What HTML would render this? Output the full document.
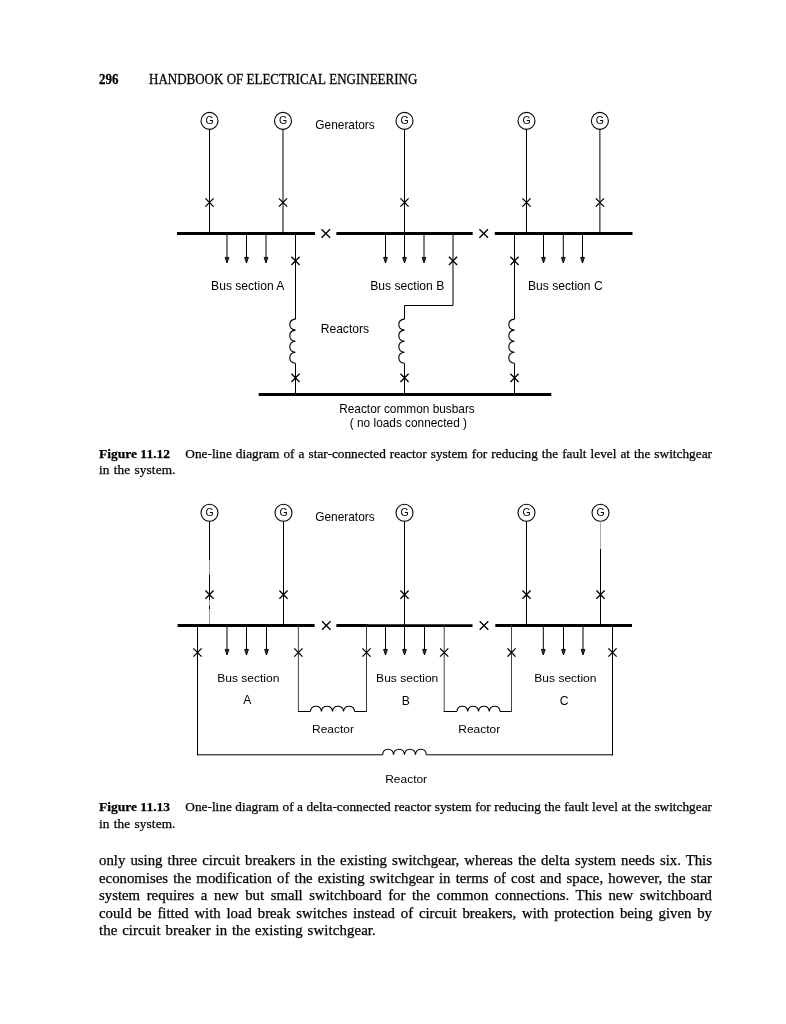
<!DOCTYPE html>
<html><head><meta charset="utf-8">
<style>
html,body{margin:0;padding:0;background:#fff;}
body{filter:grayscale(1);width:786px;height:1024px;position:relative;overflow:hidden;}
svg{position:absolute;left:0;top:0;}
.s{font-family:"Liberation Sans",sans-serif;fill:#000;}
.t{position:absolute;font-family:"Liberation Serif",serif;color:#000;-webkit-text-stroke:0.25px #000;white-space:nowrap;}
.j{position:absolute;left:99px;width:613px;font-family:"Liberation Serif",serif;color:#000;-webkit-text-stroke:0.25px #000;text-align:justify;text-align-last:justify;white-space:nowrap;}
.jl{text-align-last:left;}
b{font-weight:bold;}
</style></head><body>
<div class="t" style="left:99px;top:71px;font-size:13px;line-height:16px;transform:scaleY(1.08);transform-origin:0 4.3px;"><b>296</b><span style="position:absolute;left:50px;">HANDBOOK&nbsp;OF&nbsp;ELECTRICAL&nbsp;ENGINEERING</span></div>
<svg width="786" height="1024" viewBox="0 0 786 1024">
<circle cx="209.5" cy="120.9" r="8.5" fill="none" stroke="#000" stroke-width="1.1"/>
<text x="209.5" y="123.80" text-anchor="middle" font-size="10.5" class="s">G</text>
<line x1="209.5" y1="129.4" x2="209.5" y2="233.5" stroke="#000" stroke-width="1.0"/>
<path d="M205.4,198.4L213.6,206.6M213.6,198.4L205.4,206.6" stroke="#000" stroke-width="1.3" fill="none"/>
<circle cx="283" cy="120.9" r="8.5" fill="none" stroke="#000" stroke-width="1.1"/>
<text x="283" y="123.80" text-anchor="middle" font-size="10.5" class="s">G</text>
<line x1="283" y1="129.4" x2="283" y2="233.5" stroke="#000" stroke-width="1.0"/>
<path d="M278.9,198.4L287.1,206.6M287.1,198.4L278.9,206.6" stroke="#000" stroke-width="1.3" fill="none"/>
<circle cx="404.5" cy="120.9" r="8.5" fill="none" stroke="#000" stroke-width="1.1"/>
<text x="404.5" y="123.80" text-anchor="middle" font-size="10.5" class="s">G</text>
<line x1="404.5" y1="129.4" x2="404.5" y2="233.5" stroke="#000" stroke-width="1.0"/>
<path d="M400.4,198.4L408.6,206.6M408.6,198.4L400.4,206.6" stroke="#000" stroke-width="1.3" fill="none"/>
<circle cx="526.5" cy="120.9" r="8.5" fill="none" stroke="#000" stroke-width="1.1"/>
<text x="526.5" y="123.80" text-anchor="middle" font-size="10.5" class="s">G</text>
<line x1="526.5" y1="129.4" x2="526.5" y2="233.5" stroke="#000" stroke-width="1.0"/>
<path d="M522.4,198.4L530.6,206.6M530.6,198.4L522.4,206.6" stroke="#000" stroke-width="1.3" fill="none"/>
<circle cx="599.9" cy="120.9" r="8.5" fill="none" stroke="#000" stroke-width="1.1"/>
<text x="599.9" y="123.80" text-anchor="middle" font-size="10.5" class="s">G</text>
<line x1="599.9" y1="129.4" x2="599.9" y2="233.5" stroke="#000" stroke-width="1.0"/>
<path d="M595.8,198.4L604.0,206.6M604.0,198.4L595.8,206.6" stroke="#000" stroke-width="1.3" fill="none"/>
<line x1="177" y1="233.5" x2="315" y2="233.5" stroke="#000" stroke-width="3.0"/>
<line x1="336.4" y1="233.5" x2="472.7" y2="233.5" stroke="#000" stroke-width="3.0"/>
<line x1="494.8" y1="233.5" x2="632.5" y2="233.5" stroke="#000" stroke-width="3.0"/>
<path d="M321.5,229.2L330.1,237.8M330.1,229.2L321.5,237.8" stroke="#000" stroke-width="1.3" fill="none"/>
<path d="M479.4,229.2L488.0,237.8M488.0,229.2L479.4,237.8" stroke="#000" stroke-width="1.3" fill="none"/>
<text x="315.3" y="128.6" font-size="11.9" class="s" text-anchor="start">Generators</text>
<line x1="227" y1="233.5" x2="227" y2="259" stroke="#000" stroke-width="1"/>
<path d="M225.1,257.4L228.9,257.4L227,263Z" fill="#333" stroke="#000" stroke-width="0.9" stroke-linejoin="miter"/>
<line x1="246.5" y1="233.5" x2="246.5" y2="259" stroke="#000" stroke-width="1"/>
<path d="M244.6,257.4L248.4,257.4L246.5,263Z" fill="#333" stroke="#000" stroke-width="0.9" stroke-linejoin="miter"/>
<line x1="266" y1="233.5" x2="266" y2="259" stroke="#000" stroke-width="1"/>
<path d="M264.1,257.4L267.9,257.4L266,263Z" fill="#333" stroke="#000" stroke-width="0.9" stroke-linejoin="miter"/>
<line x1="385.5" y1="233.5" x2="385.5" y2="259" stroke="#000" stroke-width="1"/>
<path d="M383.6,257.4L387.4,257.4L385.5,263Z" fill="#333" stroke="#000" stroke-width="0.9" stroke-linejoin="miter"/>
<line x1="404.5" y1="233.5" x2="404.5" y2="259" stroke="#000" stroke-width="1"/>
<path d="M402.6,257.4L406.4,257.4L404.5,263Z" fill="#333" stroke="#000" stroke-width="0.9" stroke-linejoin="miter"/>
<line x1="424" y1="233.5" x2="424" y2="259" stroke="#000" stroke-width="1"/>
<path d="M422.1,257.4L425.9,257.4L424,263Z" fill="#333" stroke="#000" stroke-width="0.9" stroke-linejoin="miter"/>
<line x1="543.5" y1="233.5" x2="543.5" y2="259" stroke="#000" stroke-width="1"/>
<path d="M541.6,257.4L545.4,257.4L543.5,263Z" fill="#333" stroke="#000" stroke-width="0.9" stroke-linejoin="miter"/>
<line x1="563.3" y1="233.5" x2="563.3" y2="259" stroke="#000" stroke-width="1"/>
<path d="M561.4,257.4L565.19,257.4L563.3,263Z" fill="#333" stroke="#000" stroke-width="0.9" stroke-linejoin="miter"/>
<line x1="582.5" y1="233.5" x2="582.5" y2="259" stroke="#000" stroke-width="1"/>
<path d="M580.6,257.4L584.4,257.4L582.5,263Z" fill="#333" stroke="#000" stroke-width="0.9" stroke-linejoin="miter"/>
<line x1="295.5" y1="233.5" x2="295.5" y2="319.1" stroke="#000" stroke-width="1.0"/>
<path d="M295.5,319.1C287.91,319.65 287.91,329.59 295.5,330.15C287.91,330.70 287.91,340.64 295.5,341.20C287.91,341.75 287.91,351.69 295.5,352.25C287.91,352.80 287.91,362.74 295.5,363.30" fill="none" stroke="#000" stroke-width="1.1"/>
<line x1="295.5" y1="363.30" x2="295.5" y2="394.5" stroke="#000" stroke-width="1.0"/>
<path d="M291.4,256.79L299.6,265.0M299.6,256.79L291.4,265.0" stroke="#000" stroke-width="1.3" fill="none"/>
<path d="M291.4,373.79L299.6,382.0M299.6,373.79L291.4,382.0" stroke="#000" stroke-width="1.3" fill="none"/>
<line x1="514.5" y1="233.5" x2="514.5" y2="319.1" stroke="#000" stroke-width="1.0"/>
<path d="M514.5,319.1C506.91,319.65 506.91,329.59 514.5,330.15C506.91,330.70 506.91,340.64 514.5,341.20C506.91,341.75 506.91,351.69 514.5,352.25C506.91,352.80 506.91,362.74 514.5,363.30" fill="none" stroke="#000" stroke-width="1.1"/>
<line x1="514.5" y1="363.30" x2="514.5" y2="394.5" stroke="#000" stroke-width="1.0"/>
<path d="M510.4,256.79L518.6,265.0M518.6,256.79L510.4,265.0" stroke="#000" stroke-width="1.3" fill="none"/>
<path d="M510.4,373.79L518.6,382.0M518.6,373.79L510.4,382.0" stroke="#000" stroke-width="1.3" fill="none"/>
<polyline points="453,233.5 453,305.5 404.5,305.5 404.5,319.1" fill="none" stroke="#000" stroke-width="1.0"/>
<path d="M404.5,319.1C396.91,319.65 396.91,329.59 404.5,330.15C396.91,330.70 396.91,340.64 404.5,341.20C396.91,341.75 396.91,351.69 404.5,352.25C396.91,352.80 396.91,362.74 404.5,363.30" fill="none" stroke="#000" stroke-width="1.1"/>
<line x1="404.5" y1="363.30" x2="404.5" y2="394.5" stroke="#000" stroke-width="1.0"/>
<path d="M448.9,256.79L457.1,265.0M457.1,256.79L448.9,265.0" stroke="#000" stroke-width="1.3" fill="none"/>
<path d="M400.4,373.79L408.6,382.0M408.6,373.79L400.4,382.0" stroke="#000" stroke-width="1.3" fill="none"/>
<line x1="258.7" y1="394.5" x2="551.3" y2="394.5" stroke="#000" stroke-width="3.0"/>
<text x="211.1" y="289.5" font-size="12.1" class="s" text-anchor="start">Bus section A</text>
<text x="370.3" y="289.6" font-size="12.1" class="s" text-anchor="start">Bus section B</text>
<text x="528.0" y="289.8" font-size="12.1" class="s" text-anchor="start">Bus section C</text>
<text x="320.7" y="332.9" font-size="12.1" class="s" text-anchor="start">Reactors</text>
<text x="339.2" y="412.7" font-size="11.85" class="s" text-anchor="start">Reactor common busbars</text>
<text x="349.8" y="426.6" font-size="11.85" class="s" text-anchor="start">( no loads connected )</text>
<circle cx="209.5" cy="512.8" r="8.5" fill="none" stroke="#000" stroke-width="1.1"/>
<text x="209.5" y="515.69" text-anchor="middle" font-size="10.5" class="s">G</text>
<path d="M205.4,590.5L213.6,598.7M213.6,590.5L205.4,598.7" stroke="#000" stroke-width="1.3" fill="none"/>
<circle cx="283.5" cy="512.8" r="8.5" fill="none" stroke="#000" stroke-width="1.1"/>
<text x="283.5" y="515.69" text-anchor="middle" font-size="10.5" class="s">G</text>
<path d="M279.4,590.5L287.6,598.7M287.6,590.5L279.4,598.7" stroke="#000" stroke-width="1.3" fill="none"/>
<circle cx="404.5" cy="512.8" r="8.5" fill="none" stroke="#000" stroke-width="1.1"/>
<text x="404.5" y="515.69" text-anchor="middle" font-size="10.5" class="s">G</text>
<path d="M400.4,590.5L408.6,598.7M408.6,590.5L400.4,598.7" stroke="#000" stroke-width="1.3" fill="none"/>
<circle cx="526.5" cy="512.8" r="8.5" fill="none" stroke="#000" stroke-width="1.1"/>
<text x="526.5" y="515.69" text-anchor="middle" font-size="10.5" class="s">G</text>
<path d="M522.4,590.5L530.6,598.7M530.6,590.5L522.4,598.7" stroke="#000" stroke-width="1.3" fill="none"/>
<circle cx="600.5" cy="512.8" r="8.5" fill="none" stroke="#000" stroke-width="1.1"/>
<text x="600.5" y="515.69" text-anchor="middle" font-size="10.5" class="s">G</text>
<path d="M596.4,590.5L604.6,598.7M604.6,590.5L596.4,598.7" stroke="#000" stroke-width="1.3" fill="none"/>
<line x1="283.5" y1="521.3" x2="283.5" y2="625.5" stroke="#000" stroke-width="1.0"/>
<line x1="404.5" y1="521.3" x2="404.5" y2="625.5" stroke="#000" stroke-width="1.0"/>
<line x1="526.5" y1="521.3" x2="526.5" y2="625.5" stroke="#000" stroke-width="1.0"/>
<line x1="209.5" y1="521.3" x2="209.5" y2="560" stroke="#000" stroke-width="1.0"/>
<line x1="209.5" y1="560" x2="209.5" y2="574.6" stroke="#999" stroke-width="1"/>
<line x1="209.5" y1="574.6" x2="209.5" y2="600" stroke="#000" stroke-width="1.0"/>
<line x1="209.5" y1="600" x2="209.5" y2="625.5" stroke="#999" stroke-width="1"/>
<line x1="209.5" y1="606" x2="209.5" y2="609" stroke="#000" stroke-width="1.0"/>
<line x1="600.5" y1="521.3" x2="600.5" y2="549" stroke="#aaa" stroke-width="1"/>
<line x1="600.5" y1="549" x2="600.5" y2="625.5" stroke="#000" stroke-width="1.0"/>
<line x1="177.6" y1="625.5" x2="314.6" y2="625.5" stroke="#000" stroke-width="3.0"/>
<line x1="336.4" y1="625.5" x2="368" y2="625.5" stroke="#000" stroke-width="3.0"/>
<line x1="368" y1="625.6" x2="472.5" y2="625.6" stroke="#000" stroke-width="2.6"/>
<line x1="495.3" y1="625.5" x2="632" y2="625.5" stroke="#000" stroke-width="3.0"/>
<path d="M322.0,621.2L330.6,629.8M330.6,621.2L322.0,629.8" stroke="#000" stroke-width="1.3" fill="none"/>
<path d="M479.7,621.2L488.3,629.8M488.3,621.2L479.7,629.8" stroke="#000" stroke-width="1.3" fill="none"/>
<text x="315.2" y="520.6" font-size="11.9" class="s" text-anchor="start">Generators</text>
<line x1="227" y1="625.5" x2="227" y2="651" stroke="#000" stroke-width="1"/>
<path d="M225.1,649.4L228.9,649.4L227,655Z" fill="#333" stroke="#000" stroke-width="0.9" stroke-linejoin="miter"/>
<line x1="246.5" y1="625.5" x2="246.5" y2="651" stroke="#000" stroke-width="1"/>
<path d="M244.6,649.4L248.4,649.4L246.5,655Z" fill="#333" stroke="#000" stroke-width="0.9" stroke-linejoin="miter"/>
<line x1="266.5" y1="625.5" x2="266.5" y2="651" stroke="#000" stroke-width="1"/>
<path d="M264.6,649.4L268.4,649.4L266.5,655Z" fill="#333" stroke="#000" stroke-width="0.9" stroke-linejoin="miter"/>
<line x1="385.5" y1="625.5" x2="385.5" y2="651" stroke="#000" stroke-width="1"/>
<path d="M383.6,649.4L387.4,649.4L385.5,655Z" fill="#333" stroke="#000" stroke-width="0.9" stroke-linejoin="miter"/>
<line x1="404.5" y1="625.5" x2="404.5" y2="651" stroke="#000" stroke-width="1"/>
<path d="M402.6,649.4L406.4,649.4L404.5,655Z" fill="#333" stroke="#000" stroke-width="0.9" stroke-linejoin="miter"/>
<line x1="424.5" y1="625.5" x2="424.5" y2="651" stroke="#000" stroke-width="1"/>
<path d="M422.6,649.4L426.4,649.4L424.5,655Z" fill="#333" stroke="#000" stroke-width="0.9" stroke-linejoin="miter"/>
<line x1="543.3" y1="625.5" x2="543.3" y2="651" stroke="#000" stroke-width="1"/>
<path d="M541.4,649.4L545.19,649.4L543.3,655Z" fill="#333" stroke="#000" stroke-width="0.9" stroke-linejoin="miter"/>
<line x1="563.5" y1="625.5" x2="563.5" y2="651" stroke="#000" stroke-width="1"/>
<path d="M561.6,649.4L565.4,649.4L563.5,655Z" fill="#333" stroke="#000" stroke-width="0.9" stroke-linejoin="miter"/>
<line x1="583" y1="625.5" x2="583" y2="651" stroke="#000" stroke-width="1"/>
<path d="M581.1,649.4L584.9,649.4L583,655Z" fill="#333" stroke="#000" stroke-width="0.9" stroke-linejoin="miter"/>
<line x1="197.5" y1="625.5" x2="197.5" y2="755.3" stroke="#000" stroke-width="1.0"/>
<path d="M193.4,648.4L201.6,656.6M201.6,648.4L193.4,656.6" stroke="#000" stroke-width="1.3" fill="none"/>
<line x1="298.4" y1="625.5" x2="298.4" y2="711.5" stroke="#444" stroke-width="1"/>
<line x1="297.9" y1="711.5" x2="310.4" y2="711.5" stroke="#000" stroke-width="1.0"/>
<path d="M310.4,711.5C310.95,704.58 320.89,704.58 321.45,711.5C322.00,704.58 331.94,704.58 332.5,711.5C333.05,704.58 342.99,704.58 343.55,711.5C344.10,704.58 354.04,704.58 354.6,711.5" fill="none" stroke="#000" stroke-width="1.1"/>
<line x1="354.6" y1="711.5" x2="366.5" y2="711.5" stroke="#000" stroke-width="1.0"/>
<line x1="366.5" y1="712.0" x2="366.5" y2="625.5" stroke="#333" stroke-width="1"/>
<path d="M294.29,648.4L302.5,656.6M302.5,648.4L294.29,656.6" stroke="#000" stroke-width="1.3" fill="none"/>
<path d="M362.4,648.4L370.6,656.6M370.6,648.4L362.4,656.6" stroke="#000" stroke-width="1.3" fill="none"/>
<line x1="444.2" y1="625.5" x2="444.2" y2="711.5" stroke="#444" stroke-width="1"/>
<line x1="443.7" y1="711.5" x2="456.9" y2="711.5" stroke="#000" stroke-width="1.0"/>
<path d="M456.9,711.5C457.44,704.58 467.15,704.58 467.7,711.5C468.24,704.58 477.96,704.58 478.5,711.5C479.04,704.58 488.76,704.58 489.3,711.5C489.84,704.58 499.56,704.58 500.1,711.5" fill="none" stroke="#000" stroke-width="1.1"/>
<line x1="500.1" y1="711.5" x2="511.5" y2="711.5" stroke="#000" stroke-width="1.0"/>
<line x1="511.5" y1="712.0" x2="511.5" y2="625.5" stroke="#444" stroke-width="1"/>
<path d="M440.09,648.4L448.3,656.6M448.3,648.4L440.09,656.6" stroke="#000" stroke-width="1.3" fill="none"/>
<path d="M507.4,648.4L515.6,656.6M515.6,648.4L507.4,656.6" stroke="#000" stroke-width="1.3" fill="none"/>
<line x1="612.5" y1="625.5" x2="612.5" y2="755.3" stroke="#000" stroke-width="1.0"/>
<path d="M608.4,648.4L616.6,656.6M616.6,648.4L608.4,656.6" stroke="#000" stroke-width="1.3" fill="none"/>
<line x1="197" y1="754.8" x2="382.6" y2="754.8" stroke="#000" stroke-width="1.0"/>
<path d="M382.6,754.8C383.14,747.48 393.00,747.48 393.55,754.8C394.09,747.48 403.95,747.48 404.5,754.8C405.04,747.48 414.90,747.48 415.45,754.8C415.99,747.48 425.85,747.48 426.4,754.8" fill="none" stroke="#000" stroke-width="1.1"/>
<line x1="426.4" y1="754.8" x2="613" y2="754.8" stroke="#000" stroke-width="1.0"/>
<text transform="translate(217.2 681.5) scale(1.03 1)" font-size="11.7" class="s" text-anchor="start">Bus section</text>
<text x="247.3" y="703.8" font-size="12.1" class="s" text-anchor="middle">A</text>
<text transform="translate(376.1 681.8) scale(1.03 1)" font-size="11.7" class="s" text-anchor="start">Bus section</text>
<text x="405.9" y="704.6" font-size="12.1" class="s" text-anchor="middle">B</text>
<text transform="translate(534.3 681.8) scale(1.03 1)" font-size="11.7" class="s" text-anchor="start">Bus section</text>
<text x="564.1" y="704.6" font-size="12.1" class="s" text-anchor="middle">C</text>
<text transform="translate(312.0 732.5) scale(1.07 1)" font-size="11.2" class="s" text-anchor="start">Reactor</text>
<text transform="translate(458.3 732.5) scale(1.07 1)" font-size="11.2" class="s" text-anchor="start">Reactor</text>
<text transform="translate(385.2 782.8) scale(1.07 1)" font-size="11.2" class="s" text-anchor="start">Reactor</text>
</svg>
<span class="t" style="left:99px;top:446px;font-size:13.5px;line-height:16px;"><b>Figure 11.12</b></span>
<div class="j" style="left:185.3px;width:526.7px;top:446px;font-size:13.3px;line-height:16px;">One-line diagram of a star-connected reactor system for reducing the fault level at the switchgear</div>
<div class="j jl" style="top:462px;font-size:13.3px;line-height:16px;word-spacing:0.8px;letter-spacing:0.1px;">in the system.</div>
<span class="t" style="left:99px;top:799px;font-size:13.5px;line-height:16px;"><b>Figure 11.13</b></span>
<div class="j" style="left:185.3px;width:526.7px;top:799px;font-size:13.3px;line-height:16px;">One-line diagram of a delta-connected reactor system for reducing the fault level at the switchgear</div>
<div class="j jl" style="top:815.6px;font-size:13.3px;line-height:16px;word-spacing:0.8px;letter-spacing:0.1px;">in the system.</div>
<div class="j" style="top:852px;font-size:14.8px;line-height:17.5px;">only using three circuit breakers in the existing switchgear, whereas the delta system needs six. This</div>
<div class="j" style="top:869.5px;font-size:14.8px;line-height:17.5px;">economises the modification of the existing switchgear in terms of cost and space, however, the star</div>
<div class="j" style="top:887px;font-size:14.8px;line-height:17.5px;">system requires a new but small switchboard for the common connections. This new switchboard</div>
<div class="j" style="top:904.5px;font-size:14.8px;line-height:17.5px;">could be fitted with load break switches instead of circuit breakers, with protection being given by</div>
<div class="j jl" style="top:922px;font-size:14.8px;line-height:17.5px;word-spacing:0.9px;letter-spacing:0.12px;">the circuit breaker in the existing switchgear.</div>
</body></html>
